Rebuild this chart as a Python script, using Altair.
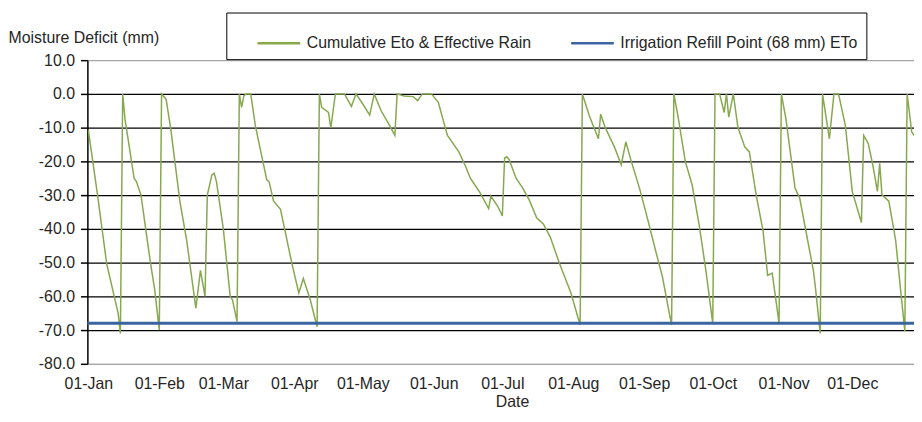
import altair as alt
import pandas as pd

series_names = ["Cumulative Eto & Effective Rain", "Irrigation Refill Point (68 mm) ETo"]
series_colors = ["#86a84e", "#3b64a0"]
refill_point = [-68.0]
year = 2019
y_ticks = [-80, -70, -60, -50, -40, -30, -20, -10, 0, 10]
month_ticks = [1, 2, 3, 4, 5, 6, 7, 8, 9, 10, 11, 12]

# day offsets from 01-Jan and the moisture deficit read at each vertex
days = [0, 4, 8, 13, 14, 15, 16, 20, 21, 23, 27, 29, 31, 32, 34, 36, 40, 43, 47, 49,
        51, 52, 54, 55, 56, 59, 62, 63, 65, 66, 67, 68, 69, 71, 73, 78, 79, 81, 84, 89,
        92, 94, 97, 100, 101, 102, 105, 106, 108, 112, 115, 117, 120, 123, 125, 128, 131, 134, 135, 138,
        142, 144, 146, 150, 153, 157, 162, 165, 167, 171, 175, 176, 179, 181, 182, 183, 184, 187, 190, 193,
        196, 199, 202, 206, 211, 215, 216, 219, 223, 224, 226, 230, 233, 235, 237, 241, 244, 248, 251, 254,
        255, 256, 258, 261, 264, 267, 270, 273, 274, 276, 278, 279, 280, 282, 284, 287, 289, 292, 295, 297,
        299, 301, 302, 303, 305, 309, 311, 314, 317, 318, 320, 321, 324, 326, 328, 331, 334, 338, 339, 341,
        343, 345, 346, 347, 350, 353, 355, 357, 358, 360, 361, 362]
deficit = [-10.8, -29.9, -50.3, -65.0, -71.0, 0.0, -7.4, -25.0, -26.0, -30.0, -49.4, -58.0, -70.0, 0.0, -1.6, -10.3, -31.8, -43.5, -63.5, -52.3,
           -60.0, -30.0, -24.0, -23.5, -26.0, -40.0, -60.0, -61.0, -67.5, 0.0, -4.0, -0.5, 0.0, 0.0, -9.4, -25.5, -26.0, -31.8, -34.2, -50.3,
           -59.0, -54.7, -61.0, -69.0, 0.0, -4.0, -5.5, -10.1, 0.0, 0.0, -3.7, 0.0, -3.0, -6.3, 0.0, -5.0, -8.5, -12.3, 0.0, -0.6,
           -0.8, -2.0, 0.0, 0.0, -2.5, -12.3, -17.2, -21.6, -25.0, -29.0, -34.0, -30.3, -33.3, -36.2, -19.0, -18.6, -19.5, -25.0, -28.0, -31.8,
           -36.7, -38.6, -42.5, -50.3, -59.0, -68.5, 0.0, -6.4, -13.3, -6.0, -10.0, -15.7, -21.0, -14.2, -19.1, -28.0, -35.7, -46.4, -54.2, -65.0,
           -68.5, 0.0, -7.4, -20.0, -27.0, -38.6, -52.3, -68.0, 0.0, 0.0, -5.5, 0.0, -6.9, 0.0, -9.9, -15.7, -17.2, -30.0, -40.6, -53.8,
           -53.1, -63.0, -68.0, 0.0, -7.4, -28.0, -30.8, -41.6, -52.3, -58.0, -71.0, 0.0, -13.3, 0.0, 0.0, -9.4, -28.9, -38.1, -12.3, -14.7,
           -21.1, -28.9, -20.6, -29.9, -31.8, -43.5, -57.2, -70.3, 0.0, -11.3, -12.3, -13.0]

dates = pd.Timestamp(f"{year}-01-01") + pd.to_timedelta(days, unit="D")
line_df = pd.DataFrame({
    "date": dates.strftime("%Y-%m-%dT%H:%M:%S"),
    "value": deficit,
    "series": series_names[0],
})
refill_df = pd.DataFrame({"value": refill_point, "series": [series_names[1]]})

FONT = "Liberation Sans"
TXT = "#262626"

color_scale = alt.Scale(domain=series_names, range=series_colors)
legend = alt.Legend(
    title=" ",
    titleOrient="left",
    titlePadding=22,
    orient="none",
    legendX=140,
    legendY=-48,
    direction="horizontal",
    symbolType="stroke",
    symbolSize=1849,
    symbolStrokeWidth=2.5,
    labelFont=FONT,
    labelFontSize=16,
    labelColor=TXT,
    labelOffset=5,
    labelLimit=400,
    columnPadding=34,
    padding=8,
    strokeColor="black",
    labelExpr="datum.label == '" + series_names[1] + "' ? datum.label + '\u00a0\u00a0\u00a0\u00a0' : datum.label",
)

x_enc = alt.X(
    "date:T",
    scale=alt.Scale(domain=[alt.DateTime(year=year - 1, month=12, date=31, hours=13, minutes=36),
                            alt.DateTime(year=year, month=12, date=28)]),
    axis=alt.Axis(
        values=[alt.DateTime(year=year, month=m, date=1) for m in month_ticks],
        format="%d-%b",
        title="Date",
        ticks=False,
        grid=False,
        domainColor="#a6a6a6",
        domainWidth=1,
        labelFont=FONT,
        labelFontSize=16,
        labelColor=TXT,
        labelPadding=12,
        labelFlush=False,
        labelOverlap=False,
        titleFont=FONT,
        titleFontSize=16,
        titleFontWeight="normal",
        titleColor=TXT,
        titleX=428,
        titleY=38,
        titleBaseline="middle",
        titleAlign="center",
    ),
)

y_axis = alt.Axis(
    values=y_ticks,
    tickCount=10,
    format=".1f",
    labelExpr="replace(datum.label, '\u2212', '-')",
    labelOverlap=False,
    tickSize=7,
    tickColor="black",
    tickWidth=1.5,
    domainColor="black",
    domainWidth=1.5,
    grid=True,
    gridColor={"condition": {"test": "datum.value === 10 || datum.value === -80", "value": "#a6a6a6"},
               "value": "#000000"},
    gridWidth=1.3,
    labelFont=FONT,
    labelFontSize=16,
    labelColor=TXT,
    labelPadding=6,
    title="Moisture Deficit (mm)",
    titleFont=FONT,
    titleFontSize=16,
    titleFontWeight="normal",
    titleColor=TXT,
    titleAngle=0,
    titleAlign="left",
    titleBaseline="middle",
    titleX=-80,
    titleY=-23,
)
y_scale = alt.Scale(domain=[-80, 10], nice=False, zero=False)

line = alt.Chart(line_df).mark_line(strokeWidth=1.5, clip=True).encode(
    x=x_enc,
    y=alt.Y("value:Q", scale=y_scale, axis=y_axis),
    color=alt.Color("series:N", scale=color_scale, legend=legend),
)

rule = alt.Chart(refill_df).mark_rule(strokeWidth=3).encode(
    y=alt.Y("value:Q", scale=y_scale, axis=y_axis),
    color=alt.Color("series:N", scale=color_scale, legend=legend),
)

chart = alt.layer(line, rule).properties(
    width=833,
    height=306,
    autosize=alt.AutoSizeParams(type="none"),
    padding={"left": 80, "top": 51, "right": 0, "bottom": 48},
    background="white",
).configure_view(stroke=None)

chart.save("out.html", embed_options={"renderer": "svg", "actions": False})
